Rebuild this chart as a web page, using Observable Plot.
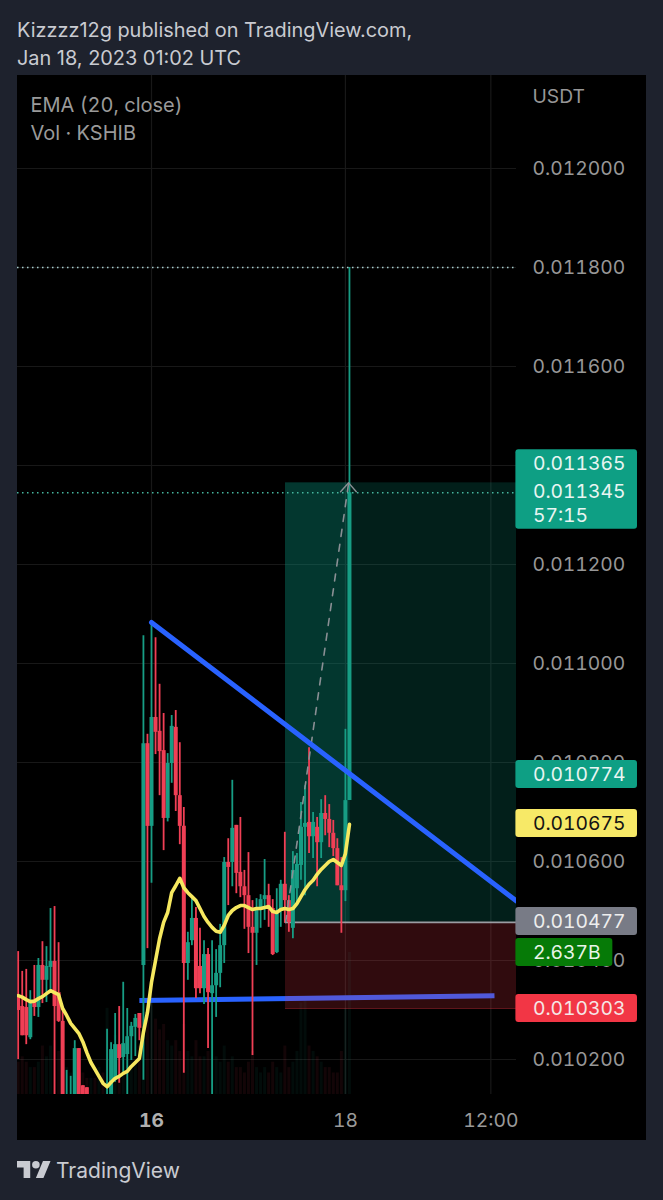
<!DOCTYPE html>
<html>
<head>
<meta charset="utf-8">
<script src="https://cdn.jsdelivr.net/npm/d3@7"></script>
<script src="https://cdn.jsdelivr.net/npm/@observablehq/plot@0.6"></script>
<style>
  html,body{margin:0;padding:0;background:#1e222d;}
  body{width:663px;height:1200px;overflow:hidden;font-family:Inter,"Noto Sans",sans-serif;}
  #head{height:75px;box-sizing:border-box;padding:16px 0 0 17px;color:#c9cbd1;font-size:19.9px;line-height:28px;}
  #chart{margin-left:17px;height:1065px;}
  #chart svg{display:block;}
  #foot{height:60px;position:relative;color:#c9cbd1;font-size:21px;}
  #foot svg{position:absolute;left:17px;top:21px;}
  #foot span{position:absolute;left:56px;top:18px;}
</style>
</head>
<body>
<div id="head">Kizzzz12g published on TradingView.com,<br>Jan 18, 2023 01:02 UTC</div>
<div id="chart"></div>
<div id="foot">
  <svg width="34" height="17" viewBox="0 4 36 18" fill="#c9cbd1"><path d="M14 22H7V11H0V4h14v18zM28 22h-8l7.5-18h8L28 22z"/><circle cx="20" cy="8" r="4"/></svg>
  <span>TradingView</span>
</div>
<script>
// Prices are in millionths of a USDT; hours are counted from Jan 16 00:00.
const hours = d3.range(-33, 50);
const opens = [
10329,10307,10305,10244,10315,10305,10390,10360,10386,10398,
10335,10277,10115,10115,10110,10222,10147,10143,10105,10115,
10102,10112,10105,10100,10158,10230,10204,10210,10246,10265,
10293,10390,10838,10671,10891,10863,10824,10687,10798,10871,
10733,10671,10394,10440,10485,10388,10343,10412,10333,10349,
10374,10430,10598,10598,10673,10578,10549,10531,10467,10455,
10505,10523,10531,10505,10416,10499,10554,10521,10465,10545,
10592,10669,10679,10650,10669,10638,10697,10685,10657,10626,
10551,10541,10723];
const closes = [
10299,10248,10248,10319,10305,10390,10360,10388,10398,10307,
10277,10125,10125,10125,10222,10090,10090,10095,10115,10105,
10112,10100,10120,10220,10230,10202,10232,10246,10267,10283,
10263,10838,10671,10891,10861,10822,10687,10798,10873,10733,
10671,10394,10436,10485,10343,10343,10412,10335,10349,10374,
10430,10598,10588,10667,10576,10549,10531,10467,10455,10505,
10523,10531,10505,10412,10499,10554,10521,10477,10582,10594,
10669,10677,10650,10679,10638,10697,10685,10657,10626,10551,
10541,10723,11345];
const highs = [
10418,10378,10382,10339,10390,10404,10438,10428,10505,10509,
10436,10305,10178,10166,10238,10222,10147,10143,10125,10120,
10122,10118,10261,10234,10293,10307,10356,10303,10275,10291,
10293,11056,10857,11083,11052,10958,10899,10818,10895,10905,
10840,10709,10457,10525,10507,10465,10440,10424,10440,10422,
10473,10608,10646,10764,10673,10689,10582,10618,10521,10525,
10533,10604,10554,10523,10545,10562,10659,10531,10620,10616,
10719,10753,10830,10699,10689,10725,10733,10715,10683,10646,
10608,10867,11800];
const lows = [
10200,10248,10230,10240,10287,10285,10313,10315,10339,10129,
10275,10120,10110,10105,10100,10085,10080,10090,10095,10100,
10095,10095,10095,10095,10154,10152,10174,10125,10198,10206,
10238,10158,10424,10556,10816,10733,10622,10680,10758,10701,
10634,10172,10360,10430,10323,10333,10311,10222,10129,10285,
10345,10394,10511,10549,10535,10527,10463,10414,10208,10390,
10465,10481,10467,10410,10414,10467,10475,10457,10444,10517,
10562,10531,10616,10606,10549,10606,10652,10628,10610,10551,
10455,10519,10723];
const ema = [
10329,10326,10321,10317,10318,10323,10327,10333,10339,10335,
10331,10303,10289,10273,10263,10253,10236,10214,10194,10180,
10166,10152,10145,10154,10162,10166,10172,10176,10186,10194,
10202,10255,10295,10356,10400,10444,10477,10497,10537,10551,
10566,10547,10537,10529,10521,10505,10489,10477,10467,10459,
10457,10471,10491,10501,10507,10511,10511,10507,10503,10505,
10505,10507,10509,10499,10497,10503,10505,10503,10505,10515,
10529,10543,10554,10562,10574,10584,10592,10600,10604,10598,
10592,10616,10675];
// Volume in billions, drawn as an overlay anchored at the bottom of the pane.
const volumes = [
0.6,0.7,0.6,0.5,0.5,0.6,0.9,0.7,0.9,1.0,
0.8,0.7,0.5,0.4,0.5,0.6,0.4,0.3,0.3,0.3,
0.5,0.4,1.6,1.0,1.1,0.9,1.0,0.9,0.7,0.6,
0.9,1.8,1.6,1.7,1.4,1.2,1.3,1.0,0.9,1.0,
0.8,1.3,0.8,0.7,1.0,0.7,0.7,0.8,1.0,0.7,
0.6,0.9,0.6,0.7,0.5,0.5,0.4,0.6,0.8,0.5,
0.4,0.5,0.4,0.6,0.5,0.4,0.9,0.5,0.6,0.8,
1.7,1.8,0.9,0.8,0.7,0.6,0.5,0.5,0.4,0.4,
0.8,1.6,2.637];

const priceTicks = [10200,10400,10600,10800,11000,11200,11400,11600,11800,12000];
const timeTicksBold = [0];
const timeTicks = [48,84];
const timeLabels = new Map([[0,"16"],[48,"18"],[84,"12:00"]]);
const xDomain = [-33.17, 90.35];
const yDomain = [10129.3, 12187.9];
const volPerBillion = 108.8;

const entryPrice = 10477, targetPrice = 11365, stopPrice = 10303, lastPrice = 11345, highPrice = 11800;
const boxStart = 33.17, boxSplit = 49.2;
const upTrend = [{t:0,p:11083},{t:90.35,p:10520}];
const baseLine = [{t:-3,p:10319},{t:84.9,p:10329}];
const projection = [{t:33.2,p:10477},{t:48.8,p:11365}];
const chevron = [{t:46.8,p:11347},{t:48.8,p:11365},{t:50.7,p:11347}];

const tagX1 = 90.2, tagX2 = 120.3, tagX2Short = 114.2, tagH = 28.3;
const tags = [
  {label:"0.010774", pos:10776, fill:"#0e9f84", text:"#e8f5f2"},
  {label:"0.010675", pos:10677, fill:"#f7e967", text:"#131313"},
  {label:"0.010477", pos:10479, fill:"#787b86", text:"#eeeeee"},
  {label:"0.010303", pos:10303, fill:"#f23645", text:"#f5e6e6"}
];
const volTag = {label:"2.637B", pos:10416, fill:"#067a07", text:"#e8f5e8"};
const stackTag = {top:11432, bottom:11271, fill:"#0e9f84"};
const stackLabels = [
  {label:"0.011365", pos:11404},
  {label:"0.011345", pos:11347},
  {label:"57:15", pos:11299}
];

const candles = hours.map((t,i)=>({t,open:opens[i],close:closes[i],high:highs[i],low:lows[i],vol:volumes[i],ema:ema[i]}));
const up = candles.filter(d=>d.close>=d.open), down = candles.filter(d=>d.close<d.open);
const green="#179d84", red="#f03f55";
const FONT="Inter,'Noto Sans',sans-serif";
const base=yDomain[0];
const LABEL=19.3;

const chart = Plot.plot({
  width:629, height:1065,
  marginLeft:0, marginRight:130, marginTop:0, marginBottom:46,
  x:{domain:xDomain},
  y:{domain:yDomain},
  style:{background:"#000",fontFamily:FONT,fontVariantNumeric:"tabular-nums"},
  marks:[
    Plot.ruleY(priceTicks,{stroke:"#181818",strokeWidth:1}),
    Plot.ruleX(timeTicksBold.concat(timeTicks),{stroke:"#181818",strokeWidth:1.2}),
    // volume
    Plot.ruleX(up,{x:"t",y1:()=>base,y2:d=>base+d.vol*volPerBillion,stroke:green,strokeWidth:3,strokeOpacity:.08,clip:true}),
    Plot.ruleX(down,{x:"t",y1:()=>base,y2:d=>base+d.vol*volPerBillion,stroke:red,strokeWidth:3,strokeOpacity:.08,clip:true}),
    Plot.line(baseLine,{x:"t",y:"p",stroke:"#2962ff",strokeWidth:5,strokeLinecap:"butt"}),
    // position tool
    Plot.rect([0],{x1:boxStart,x2:boxSplit,y1:entryPrice,y2:targetPrice,fill:"#089981",fillOpacity:.36,inset:0}),
    Plot.rect([0],{x1:boxSplit,x2:xDomain[1],y1:entryPrice,y2:targetPrice,fill:"#089981",fillOpacity:.2,inset:0}),
    Plot.rect([0],{x1:boxStart,x2:xDomain[1],y1:stopPrice,y2:entryPrice,fill:"#f23645",fillOpacity:.2,inset:0}),
    Plot.ruleY([stopPrice],{x1:boxStart,x2:xDomain[1],stroke:"#f23645",strokeOpacity:.4,strokeWidth:1}),
    Plot.ruleY([entryPrice],{x1:boxStart,x2:xDomain[1],stroke:"#9b9da3",strokeWidth:1.6}),
    // candles
    Plot.ruleX(up,{x:"t",y1:"low",y2:"high",stroke:green,strokeWidth:1.8,clip:true}),
    Plot.ruleX(down,{x:"t",y1:"low",y2:"high",stroke:red,strokeWidth:1.8,clip:true}),
    Plot.ruleX(up,{x:"t",y1:"open",y2:"close",stroke:green,strokeWidth:4,clip:true}),
    Plot.ruleX(down,{x:"t",y1:"open",y2:"close",stroke:red,strokeWidth:4,clip:true}),
    // projection
    Plot.line(projection,{x:"t",y:"p",stroke:"#8a8f94",strokeWidth:1.6,strokeDasharray:"7,8"}),
    Plot.line(chevron,{x:"t",y:"p",stroke:"#8a8f94",strokeWidth:1.4}),
    // EMA
    Plot.line(candles,{x:"t",y:"ema",stroke:"#f6e85f",strokeWidth:3.6,curve:"linear",clip:true}),
    Plot.line(upTrend,{x:"t",y:"p",stroke:"#2962ff",strokeWidth:5,strokeLinecap:"round",clip:true}),
    // dotted price lines
    Plot.ruleY([highPrice],{stroke:"#a9cfd0",strokeWidth:1.5,strokeDasharray:"1.5,3.5"}),
    Plot.ruleY([lastPrice],{stroke:"#45b8a0",strokeWidth:1.5,strokeDasharray:"1.5,3.5"}),
    // axes
    Plot.axisY(priceTicks,{anchor:"right",tickSize:0,tickPadding:16,label:null,fontSize:LABEL,fill:"#979797",
      tickFormat:d=>(d/1e6).toFixed(6)}),
    Plot.axisX(timeTicksBold,{anchor:"bottom",tickSize:0,tickPadding:19,label:null,fontSize:LABEL,fontWeight:"bold",fill:"#b0b0b0",
      tickFormat:d=>timeLabels.get(d)}),
    Plot.axisX(timeTicks,{anchor:"bottom",tickSize:0,tickPadding:19,label:null,fontSize:LABEL,fill:"#9a9a9a",
      tickFormat:d=>timeLabels.get(d)}),
    // price tags
    Plot.rect([stackTag],{x1:()=>tagX1,x2:()=>tagX2,y1:"bottom",y2:"top",fill:"fill",rx:3}),
    Plot.text(stackLabels,{x:()=>tagX1,y:"pos",text:"label",dx:17,textAnchor:"start",fill:"#e8f5f2",fontSize:LABEL}),
    Plot.rect(tags,{x1:()=>tagX1,x2:()=>tagX2,y1:d=>d.pos-tagH,y2:d=>d.pos+tagH,fill:"fill",rx:3}),
    Plot.text(tags,{x:()=>tagX1,y:"pos",text:"label",dx:17,textAnchor:"start",fill:"text",fontSize:LABEL}),
    Plot.rect([volTag],{x1:()=>tagX1,x2:()=>tagX2Short,y1:d=>d.pos-tagH,y2:d=>d.pos+tagH,fill:"fill",rx:3}),
    Plot.text([volTag],{x:()=>tagX1,y:"pos",text:"label",dx:17,textAnchor:"start",fill:"text",fontSize:LABEL}),
    // legend
    Plot.text(["EMA (20, close)"],{frameAnchor:"top-left",dx:13,dy:22,textAnchor:"start",fill:"#9a9a9a",fontSize:20}),
    Plot.text(["Vol · KSHIB"],{frameAnchor:"top-left",dx:13,dy:50,textAnchor:"start",fill:"#9a9a9a",fontSize:20}),
    Plot.text(["USDT"],{frameAnchor:"top-right",dx:16,dy:14,textAnchor:"start",fill:"#979797",fontSize:LABEL})
  ]
});
document.getElementById("chart").appendChild(chart);
</script>
</body>
</html>
